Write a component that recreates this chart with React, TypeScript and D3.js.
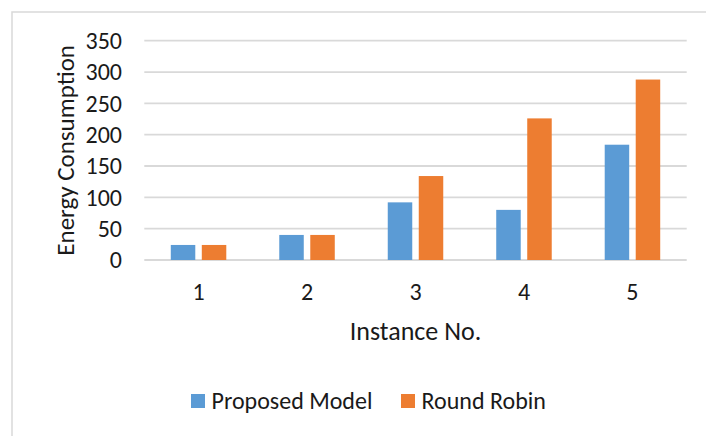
import React, { useEffect, useRef } from "react";
import * as d3 from "d3";

const categories = ["1", "2", "3", "4", "5"];
const seriesNames = ["Proposed Model", "Round Robin"];
const proposedModel = [24, 40, 92, 80, 184];
const roundRobin = [24, 40, 134, 226, 288];
const yTicks = [0, 50, 100, 150, 200, 250, 300, 350];
const seriesColors = ["#5B9BD5", "#ED7D31"];

const W = 706;
const H = 436;
const FONT = "Carlito, Calibri, Lato, sans-serif";
const INK = "#1a1a1a";

export default function App() {
  const ref = useRef<SVGSVGElement | null>(null);

  useEffect(() => {
    const svg = d3.select(ref.current);
    svg.selectAll("*").remove();

    const plot = { left: 144.3, right: 686.7, top: 40.7, bottom: 260 };

    // outer chart frame (runs off the right and bottom edges)
    svg
      .append("rect")
      .attr("x", 12)
      .attr("y", 12)
      .attr("width", W)
      .attr("height", H)
      .attr("fill", "#fff")
      .attr("stroke", "#d9d9d9")
      .attr("stroke-width", 1.5);

    const x0 = d3.scaleBand<string>().domain(categories).range([plot.left, plot.right]);
    const groupW = 55.5;
    const x1 = d3
      .scaleBand<string>()
      .domain(seriesNames)
      .range([0, groupW])
      .paddingInner(0.21);
    const y = d3.scaleLinear().domain([0, 350]).range([plot.bottom, plot.top]);

    // gridlines
    svg
      .append("g")
      .selectAll("line")
      .data(yTicks)
      .join("line")
      .attr("x1", plot.left)
      .attr("x2", plot.right)
      .attr("y1", (d) => y(d))
      .attr("y2", (d) => y(d))
      .attr("stroke", "#d9d9d9")
      .attr("stroke-width", 1.8);

    // y tick labels
    svg
      .append("g")
      .selectAll("text")
      .data(yTicks)
      .join("text")
      .attr("x", 122)
      .attr("y", (d) => y(d))
      .attr("dy", "0.35em")
      .attr("text-anchor", "end")
      .attr("font-family", FONT)
      .attr("font-size", 24)
      .attr("fill", INK)
      .text((d) => String(d));

    // bars
    const seriesData = [proposedModel, roundRobin];
    const groups = svg
      .append("g")
      .selectAll("g")
      .data(categories)
      .join("g")
      .attr("transform", (c) => `translate(${x0(c)! + (x0.bandwidth() - groupW) / 2},0)`);

    groups
      .selectAll("rect")
      .data((c, i) => seriesNames.map((s, k) => ({ s, v: seriesData[k][i], k })))
      .join("rect")
      .attr("x", (d) => x1(d.s)!)
      .attr("width", x1.bandwidth())
      .attr("y", (d) => y(d.v))
      .attr("height", (d) => y(0) - y(d.v))
      .attr("fill", (d) => seriesColors[d.k]);

    // x tick labels
    svg
      .append("g")
      .selectAll("text")
      .data(categories)
      .join("text")
      .attr("x", (c) => x0(c)! + x0.bandwidth() / 2)
      .attr("y", 292)
      .attr("dy", "0.35em")
      .attr("text-anchor", "middle")
      .attr("font-family", FONT)
      .attr("font-size", 24)
      .attr("fill", INK)
      .text((c) => c);

    // axis titles
    svg
      .append("text")
      .attr("x", (plot.left + plot.right) / 2)
      .attr("y", 331)
      .attr("dy", "0.35em")
      .attr("text-anchor", "middle")
      .attr("font-family", FONT)
      .attr("font-size", 26)
      .attr("fill", INK)
      .text("Instance No.");

    svg
      .append("text")
      .attr("transform", `translate(65,${(plot.top + plot.bottom) / 2}) rotate(-90)`)
      .attr("dy", "0.35em")
      .attr("text-anchor", "middle")
      .attr("font-family", FONT)
      .attr("font-size", 25)
      .attr("fill", INK)
      .text("Energy Consumption");

    // legend
    const legendItems = [
      { name: seriesNames[0], color: seriesColors[0], x: 191 },
      { name: seriesNames[1], color: seriesColors[1], x: 401 },
    ];
    const lg = svg
      .append("g")
      .selectAll("g")
      .data(legendItems)
      .join("g")
      .attr("transform", (d) => `translate(${d.x},0)`);
    lg.append("rect")
      .attr("x", 0)
      .attr("y", 394)
      .attr("width", 14)
      .attr("height", 14)
      .attr("fill", (d) => d.color);
    lg.append("text")
      .attr("x", 20.5)
      .attr("y", 401)
      .attr("dy", "0.35em")
      .attr("font-family", FONT)
      .attr("font-size", 24)
      .attr("fill", INK)
      .text((d) => d.name);
  }, []);

  return (
    <svg
      ref={ref}
      width={W}
      height={H}
      style={{ position: "absolute", left: 0, top: 0, background: "#fff" }}
    />
  );
}
